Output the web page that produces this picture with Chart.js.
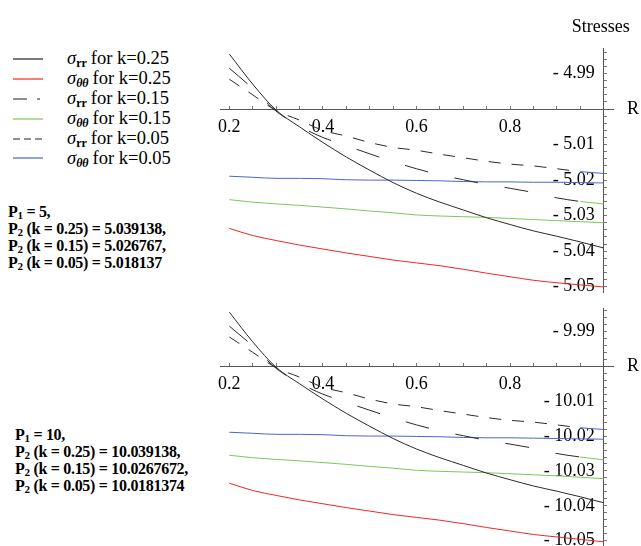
<!DOCTYPE html>
<html>
<head>
<meta charset="utf-8">
<script src="https://cdn.jsdelivr.net/npm/chart.js@4.4.1/dist/chart.umd.min.js"></script>
<style>
  body { margin: 0; background: #fff; width: 641px; height: 546px; position: relative; overflow: hidden; font-family: "Liberation Serif", "DejaVu Serif", serif; color: #000; }
  canvas { position: absolute; }
  #topChart { left: 200px; top: 0; }
  #bottomChart { left: 200px; top: 300px; }
  #legend { position: absolute; left: 13px; top: 49px; }
  .row { height: 19.9px; display: flex; align-items: center; font-size: 18.5px; line-height: 19px; }
  .row svg { width: 32px; height: 6px; margin-right: 22px; flex: none; }
  .sym { font-style: italic; }
  .sym sub { font-size: 12px; line-height: 0; font-weight: bold; font-style: normal; vertical-align: -3px; margin-right: 4px; }
  .sym sub.th { font-style: italic; }
  .params { position: absolute; font-weight: bold; font-size: 16px; line-height: 17px; letter-spacing: -0.3px; white-space: nowrap; }
  .params sub { font-size: 11px; line-height: 0; vertical-align: -2px; }
  #p5 { left: 8px; top: 203px; }
  #p10 { left: 15px; top: 426px; }
</style>
</head>
<body>
<div id="legend">
  <div class="row"><svg><line x1="0" y1="3" x2="30" y2="3" stroke="#222" stroke-width="1.2"/></svg><span><span class="sym">σ<sub>rr</sub></span>for k=0.25</span></div>
  <div class="row"><svg><line x1="0" y1="3" x2="30" y2="3" stroke="#f0281e" stroke-width="1.2"/></svg><span><span class="sym">σ<sub class="th">θθ</sub></span>for k=0.25</span></div>
  <div class="row"><svg><line x1="0" y1="3" x2="30" y2="3" stroke="#222" stroke-width="1.2" stroke-dasharray="14 10 3 10"/></svg><span><span class="sym">σ<sub>rr</sub></span>for k=0.15</span></div>
  <div class="row"><svg><line x1="0" y1="3" x2="30" y2="3" stroke="#7cc85c" stroke-width="1.2"/></svg><span><span class="sym">σ<sub class="th">θθ</sub></span>for k=0.15</span></div>
  <div class="row"><svg><line x1="0" y1="3" x2="30" y2="3" stroke="#222" stroke-width="1.2" stroke-dasharray="7 4"/></svg><span><span class="sym">σ<sub>rr</sub></span>for k=0.05</span></div>
  <div class="row"><svg><line x1="0" y1="3" x2="30" y2="3" stroke="#4a68c4" stroke-width="1.2"/></svg><span><span class="sym">σ<sub class="th">θθ</sub></span>for k=0.05</span></div>
</div>
<div class="params" id="p5">P<sub>1</sub> = 5,<br>P<sub>2</sub> (k = 0.25) = 5.039138,<br>P<sub>2</sub> (k = 0.15) = 5.026767,<br>P<sub>2</sub> (k = 0.05) = 5.018137</div>
<div class="params" id="p10">P<sub>1</sub> = 10,<br>P<sub>2</sub> (k = 0.25) = 10.039138,<br>P<sub>2</sub> (k = 0.15) = 10.0267672,<br>P<sub>2</sub> (k = 0.05) = 10.0181374</div>
<canvas id="topChart" width="441" height="300"></canvas>
<canvas id="bottomChart" width="441" height="246"></canvas>
<script>
// radial coordinate R
const radius = [0.2, 0.25, 0.3, 0.35, 0.4, 0.45, 0.5, 0.55, 0.6, 0.65, 0.7, 0.75, 0.8, 0.85, 0.9, 0.95, 1.0];

// P1 = 5
const srrK25p5 = [-4.9845, -4.9930, -5.0003, -5.0050, -5.0094, -5.0135, -5.0172, -5.0207, -5.0237, -5.0262, -5.0284, -5.0306, -5.0325, -5.0343, -5.0358, -5.0374, -5.0391];
const sttK25p5 = [-5.0336, -5.0356, -5.0370, -5.0383, -5.0394, -5.0405, -5.0415, -5.0425, -5.0433, -5.0441, -5.0451, -5.0462, -5.0472, -5.0482, -5.0489, -5.0495, -5.0501];
const srrK15p5 = [-4.9885, -4.9942, -5.0006, -5.0048, -5.0080, -5.0103, -5.0126, -5.0148, -5.0168, -5.0185, -5.0199, -5.0212, -5.0223, -5.0235, -5.0250, -5.0260, -5.0267];
const sttK15p5 = [-5.0255, -5.0262, -5.0267, -5.0271, -5.0276, -5.0281, -5.0287, -5.0292, -5.0298, -5.0301, -5.0303, -5.0305, -5.0308, -5.0311, -5.0314, -5.0317, -5.0320];
const srrK05p5 = [-4.9916, -4.9960, -5.0004, -5.0031, -5.0060, -5.0076, -5.0094, -5.0108, -5.0116, -5.0127, -5.0137, -5.0147, -5.0155, -5.0160, -5.0168, -5.0176, -5.0181];
const sttK05p5 = [-5.0189, -5.0192, -5.0195, -5.0195, -5.0196, -5.0199, -5.0200, -5.0200, -5.0201, -5.0202, -5.0204, -5.0205, -5.0205, -5.0206, -5.0206, -5.0207, -5.0208];

// P1 = 10
const srrK25p10 = [-9.9845, -9.9930, -10.0003, -10.0050, -10.0094, -10.0135, -10.0172, -10.0207, -10.0237, -10.0262, -10.0284, -10.0306, -10.0325, -10.0343, -10.0358, -10.0374, -10.0391];
const sttK25p10 = [-10.0335, -10.0356, -10.0370, -10.0383, -10.0394, -10.0405, -10.0415, -10.0425, -10.0433, -10.0441, -10.0451, -10.0462, -10.0472, -10.0482, -10.0489, -10.0496, -10.0503];
const srrK15p10 = [-9.9885, -9.9942, -10.0006, -10.0048, -10.0080, -10.0103, -10.0126, -10.0148, -10.0168, -10.0185, -10.0199, -10.0212, -10.0223, -10.0235, -10.0250, -10.0260, -10.0268];
const sttK15p10 = [-10.0255, -10.0262, -10.0267, -10.0271, -10.0276, -10.0281, -10.0287, -10.0292, -10.0298, -10.0301, -10.0303, -10.0305, -10.0308, -10.0311, -10.0314, -10.0318, -10.0322];
const srrK05p10 = [-9.9916, -9.9960, -10.0004, -10.0031, -10.0060, -10.0076, -10.0094, -10.0108, -10.0116, -10.0127, -10.0137, -10.0147, -10.0155, -10.0160, -10.0168, -10.0176, -10.0181];
const sttK05p10 = [-10.0189, -10.0192, -10.0195, -10.0195, -10.0196, -10.0199, -10.0200, -10.0200, -10.0201, -10.0202, -10.0204, -10.0205, -10.0205, -10.0206, -10.0207, -10.0208, -10.0209];

const xLabels = [0.2, 0.4, 0.6, 0.8];

const BLACK = '#2a2a2a', RED = '#f0281e', GREEN = '#7cc85c', BLUE = '#4a68c4';
const serif = '"Liberation Serif", "DejaVu Serif", serif';

const pts = arr => arr.map((v, i) => ({x: radius[i], y: v}));

// last piece of the dashed curves is drawn solid in the colour of the matching hoop curve
const tailColour = (col) => ({
  borderColor: c => c.p1DataIndex === radius.length - 1 ? col : undefined,
  borderDash: c => c.p1DataIndex === radius.length - 1 ? [] : undefined
});

function makeSets(srr25, stt25, srr15, stt15, srr05, stt05) {
  const base = {borderWidth: 1, pointRadius: 0, fill: false, cubicInterpolationMode: 'monotone'};
  return [
    {...base, data: pts(srr25), borderColor: BLACK},
    {...base, data: pts(stt25), borderColor: RED},
    {...base, data: pts(srr15), borderColor: BLACK, borderDash: [24, 27], segment: tailColour(GREEN)},
    {...base, data: pts(stt15), borderColor: GREEN},
    {...base, data: pts(srr05), borderColor: BLACK, borderDash: [12, 11], segment: tailColour(BLUE)},
    {...base, data: pts(stt05), borderColor: BLUE}
  ];
}

const axisNames = {
  id: 'axisNames',
  afterDraw(chart, args, opts) {
    const {ctx, scales: {x, y}} = chart;
    ctx.save();
    ctx.font = '18px ' + serif;
    ctx.fillStyle = '#000';
    ctx.textBaseline = 'middle';
    ctx.fillText('R', x.right + 14, y.getPixelForValue(opts.base));
    if (opts.title) {
      ctx.textAlign = 'center';
      ctx.fillText(opts.title, x.getPixelForValue(1) - 3, 27);
    }
    ctx.restore();
  }
};

const noPad = s => { s.paddingTop = 0; s.paddingBottom = 0; s.paddingLeft = 0; s.paddingRight = 0; };

function makeChart(id, sets, base, yMin, yMax, padTop, padBottom, title) {
  return new Chart(document.getElementById(id), {
    type: 'line',
    data: {datasets: sets},
    plugins: [axisNames],
    options: {
      responsive: false,
      animation: false,
      layout: {padding: {left: 20, right: 28, top: padTop, bottom: padBottom}},
      plugins: {
        legend: {display: false},
        tooltip: {enabled: false},
        axisNames: {base: base, title: title}
      },
      scales: {
        x: {
          type: 'linear',
          min: 0.18,
          max: 1.02,
          position: {y: base},
          afterFit: noPad,
          border: {display: true, color: '#555', width: 1},
          grid: {drawOnChartArea: false, drawTicks: true, tickLength: -4, tickColor: '#777'},
          ticks: {
            stepSize: 0.05,
            includeBounds: false,
            autoSkip: false,
            maxRotation: 0,
            padding: 11,
            color: '#000',
            font: {family: serif, size: 18},
            callback: v => xLabels.some(l => Math.abs(l - v) < 1e-6) ? v.toFixed(1) : ''
          }
        },
        y: {
          type: 'linear',
          min: yMin,
          max: yMax,
          position: {x: 1},
          afterFit: noPad,
          border: {display: true, color: '#555', width: 1},
          grid: {drawOnChartArea: false, drawTicks: true, tickLength: -4, tickColor: '#777'},
          ticks: {
            stepSize: 0.002,
            includeBounds: false,
            autoSkip: false,
            color: '#000',
            font: {family: serif, size: 18},
            callback: v => {
              const c = v * 100;
              if (Math.abs(c - Math.round(c)) > 1e-4 || Math.abs(v - base) < 1e-6) return '';
              return '- ' + Math.abs(v).toFixed(2) + '  ';
            }
          }
        }
      }
    }
  });
}

makeChart('topChart', makeSets(srrK25p5, sttK25p5, srrK15p5, sttK15p5, srrK05p5, sttK05p5),
  -5, -5.0515, -4.9828, 48, 8, 'Stresses');
makeChart('bottomChart', makeSets(srrK25p10, sttK25p10, srrK15p10, sttK15p10, srrK05p10, sttK05p10),
  -10, -10.0515, -9.9833, 8, 0, null);
</script>
</body>
</html>
